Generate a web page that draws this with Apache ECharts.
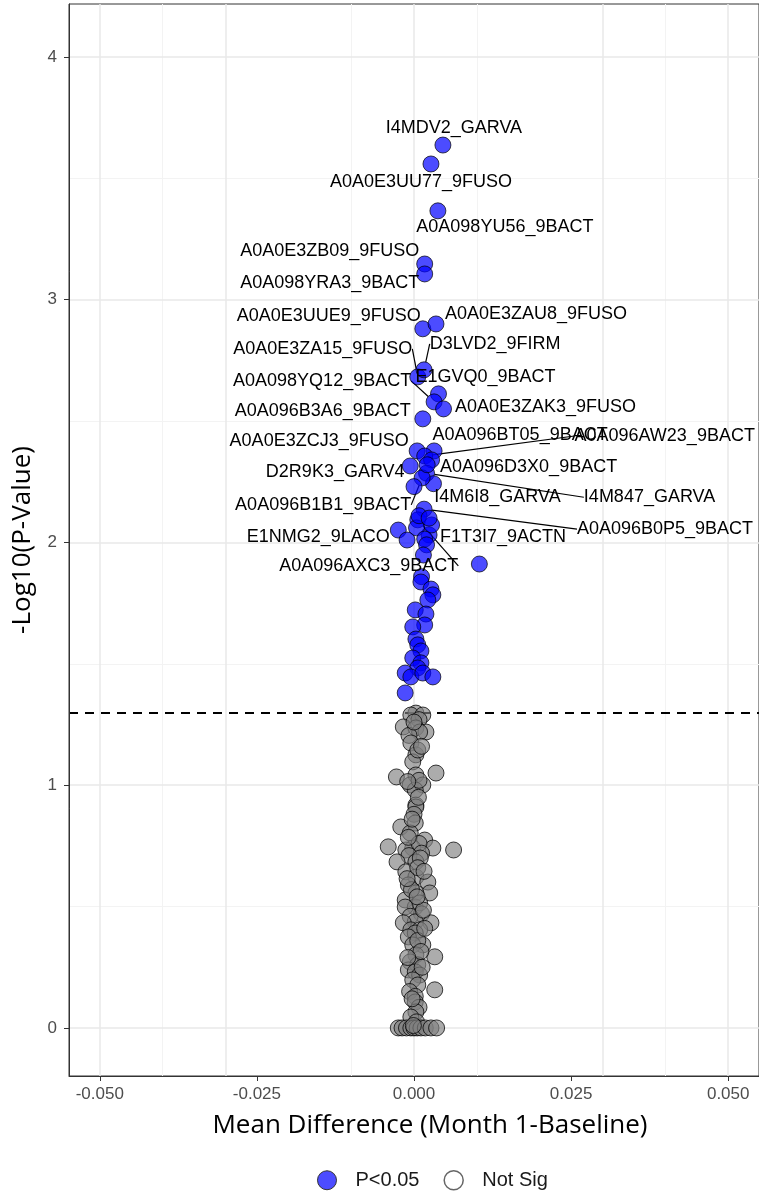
<!DOCTYPE html>
<html>
<head>
<meta charset="utf-8">
<script src="https://cdn.jsdelivr.net/npm/echarts@6/dist/echarts.min.js"></script>
<style>
html,body{margin:0;padding:0;background:#fff}
#chart{width:759px;height:1192px}
</style>
</head>
<body>
<div id="chart"></div>
<script>
// significant proteins that carry a label
var sigNames = ['I4MDV2_GARVA','A0A0E3UU77_9FUSO','A0A098YU56_9BACT','A0A0E3ZB09_9FUSO','A0A098YRA3_9BACT',
  'A0A0E3UUE9_9FUSO','A0A0E3ZAU8_9FUSO','A0A0E3ZA15_9FUSO','D3LVD2_9FIRM','E1GVQ0_9BACT',
  'A0A098YQ12_9BACT','A0A0E3ZAK3_9FUSO','A0A096B3A6_9BACT','A0A0E3ZCJ3_9FUSO','A0A096BT05_9BACT',
  'A0A096AW23_9BACT','D2R9K3_GARV4','A0A096D3X0_9BACT','I4M847_GARVA','I4M6I8_GARVA',
  'A0A096B1B1_9BACT','A0A096B0P5_9BACT','E1NMG2_9LACO','F1T3I7_9ACTN','A0A096AXC3_9BACT'];
var sigX = [0.0046,0.0027,0.0038,0.0017,0.0017,
  0.0014,0.0035,0.0006,0.0016,0.0039,
  0.0032,0.0047,0.0014,0.0005,0.0032,
  0.0017,-0.0006,0.0028,0.0020,0.0031,
  0.0013,0.0016,-0.0025,0.0024,0.0006];
var sigY = [3.637,3.559,3.366,3.147,3.106,
  2.880,2.900,2.682,2.711,2.612,
  2.579,2.550,2.509,2.377,2.377,
  2.356,2.315,2.340,2.285,2.242,
  2.266,2.137,2.051,2.031,2.093];

// significant, no label
var sigOtherX = [0.0028,0.0004,-0.0011,0.0017,0.0020,0.0015,0.0104,0.0012,0.0011,0.0027,0.0030,0.0022,
  0.0002,0.0019,0.0017,-0.0002,0.0003,0.0006,0.0011,-0.0002,0.0011,0.0006,-0.0014,-0.0005,
  0.0014,0.0030,-0.0014,0.0008,0.0021,0.0000,0.0024];
var sigOtherY = [2.072,2.060,2.010,2.014,1.990,1.948,1.911,1.859,1.837,1.808,1.784,1.763,
  1.722,1.705,1.660,1.652,1.602,1.578,1.553,1.524,1.504,1.483,1.462,1.446,
  1.462,1.446,1.380,2.110,2.320,2.230,2.100];

// not significant
var nsX = [0.0003,-0.0005,0.0014,0.0008,-0.0017,0.0003,0.0019,0.0009,-0.0008,-0.0005,
  0.0003,-0.0002,0.0006,-0.0028,0.0035,0.0003,-0.0006,0.0014,0.0002,0.0008,
  -0.0010,0.0003,0.0003,0.0000,-0.0021,0.0002,-0.0006,0.0017,0.0030,-0.0002,
  -0.0013,-0.0041,0.0063,0.0008,0.0012,-0.0008,-0.0027,0.0003,0.0010,-0.0013,
  0.0003,0.0022,-0.0009,0.0006,0.0025,0.0003,-0.0014,0.0002,0.0009,-0.0014,
  -0.0004,0.0012,-0.0006,0.0002,0.0027,-0.0017,-0.0005,0.0009,0.0002,-0.0009,
  0.0014,-0.0002,0.0006,0.0033,0.0003,-0.0006,0.0006,0.0011,-0.0009,0.0002,
  0.0009,-0.0002,0.0033,0.0006,-0.0007,0.0002,0.0002,0.0008,0.0003,-0.0005,
  0.0004,-0.0025,-0.0019,-0.0012,-0.0005,0.0000,0.0005,0.0011,0.0018,0.0027,
  0.0036,-0.0001,0.0007,-0.0003,0.0016,-0.0011,0.0015,-0.0010,0.0013,0.0000,
  0.0012,-0.0009,0.0005,0.0017,-0.0003];
var nsY = [1.297,1.289,1.289,1.270,1.240,1.236,1.219,1.219,1.205,1.174,
  1.125,1.096,1.145,1.034,1.050,1.042,1.001,1.001,0.980,1.020,
  1.015,0.918,0.910,0.880,0.828,0.844,0.803,0.774,0.741,0.741,
  0.733,0.746,0.733,0.760,0.720,0.710,0.684,0.684,0.700,0.643,
  0.622,0.601,0.589,0.660,0.556,0.556,0.527,0.498,0.515,0.498,
  0.570,0.470,0.460,0.437,0.433,0.433,0.404,0.404,0.391,0.375,
  0.342,0.342,0.360,0.293,0.301,0.272,0.260,0.315,0.239,0.231,
  0.218,0.198,0.157,0.177,0.150,0.130,0.107,0.085,0.066,0.045,
  0.025,0,0,0,0,0,0,0,0,0,
  0,0.010,0.950,0.860,0.645,0.615,0.485,0.290,0.250,1.260,
  1.160,0.785,0.540,0.410,0.120];

var xTicks = [-0.05,-0.025,0,0.025,0.05];
var xMinor = [-0.0375,-0.0125,0.0125,0.0375];
var yTicks = [0,1,2,3,4];
var yMinor = [0.5,1.5,2.5,3.5];
var pThreshold = 1.301;

// label placement: text centre offset from the point in px, and whether a segment is drawn
var labelOffsets = {
  'I4MDV2_GARVA':[11,-17,0],
  'A0A0E3UU77_9FUSO':[-10,18,0],
  'A0A098YU56_9BACT':[67,16,0],
  'A0A0E3ZB09_9FUSO':[-95,-13,0],
  'A0A098YRA3_9BACT':[-95,9,0],
  'A0A0E3UUE9_9FUSO':[-94,-13,0],
  'A0A0E3ZAU8_9FUSO':[100,-10,0],
  'A0A0E3ZA15_9FUSO':[-95,-28,1],
  'D3LVD2_9FIRM':[71,-26,1],
  'E1GVQ0_9BACT':[47,-17,0],
  'A0A098YQ12_9BACT':[-112,-21,1],
  'A0A0E3ZAK3_9FUSO':[102,-2,0],
  'A0A096B3A6_9BACT':[-100,-8,0],
  'A0A0E3ZCJ3_9FUSO':[-98,-10,0],
  'A0A096BT05_9BACT':[86,-16,0],
  'A0A096AW23_9BACT':[240,-20,1],
  'D2R9K3_GARV4':[-75,6,0],
  'A0A096D3X0_9BACT':[97,7,0],
  'I4M847_GARVA':[223,24,1],
  'I4M6I8_GARVA':[64,13,0],
  'A0A096B1B1_9BACT':[-99,27,1],
  'A0A096B0P5_9BACT':[241,20,1],
  'E1NMG2_9LACO':[-80,7,0],
  'F1T3I7_9ACTN':[74,2,0],
  'A0A096AXC3_9BACT':[-49,46,1]
};

var FONT = '"Liberation Sans", Arial, sans-serif';
var TITLEFONT = '"Open Sans", Lato, sans-serif';

var sigData = sigNames.map(function(n, i){
  var o = labelOffsets[n];
  return {name: n, value: [sigX[i], sigY[i]], label: {show: true}, labelLine: {show: !!o[2]}};
});
sigOtherX.forEach(function(x, i){
  sigData.push({value: [x, sigOtherY[i]], label: {show: false}});
});
var nsData = nsX.map(function(x, i){ return [x, nsY[i]]; });

var gridLines = [];
xMinor.forEach(function(v){ gridLines.push({xAxis: v, lineStyle: {color: '#f3f3f3', width: 1, type: 'solid'}}); });
yMinor.forEach(function(v){ gridLines.push({yAxis: v, lineStyle: {color: '#f3f3f3', width: 1, type: 'solid'}}); });
xTicks.forEach(function(v){ gridLines.push({xAxis: v, lineStyle: {color: '#e8e8e8', width: 1.5, type: 'solid'}}); });
yTicks.forEach(function(v){ gridLines.push({yAxis: v, lineStyle: {color: '#e8e8e8', width: 1.5, type: 'solid'}}); });

var myChart = echarts.init(document.getElementById('chart'));
var option = {
  animation: false,
  backgroundColor: '#fff',
  grid: {left: 69, right: -4, top: 4, bottom: 116, show: true, borderColor: '#333', borderWidth: 1, backgroundColor: '#fff'},
  legend: {
    top: 1165, left: 312,
    itemWidth: 19, itemHeight: 19, itemGap: 24,
    icon: 'circle',
    textStyle: {fontSize: 20, color: '#1a1a1a', fontFamily: FONT, padding: [0, 0, 0, 14]},
    data: [
      {name: 'P<0.05', itemStyle: {color: 'rgba(0,0,255,0.7)', borderColor: '#333', borderWidth: 1}},
      {name: 'Not Sig', itemStyle: {color: '#fff', borderColor: '#666', borderWidth: 1.5}}
    ]
  },
  xAxis: {
    type: 'value', min: -0.0549, max: 0.0549,
    splitLine: {show: false},
    axisLine: {show: true, onZero: false, lineStyle: {color: '#333'}},
    axisTick: {show: true, customValues: xTicks, length: 5, lineStyle: {color: '#333'}},
    axisLabel: {customValues: xTicks, fontSize: 17, color: '#4d4d4d', fontFamily: FONT, margin: 10,
      formatter: function(v){ return v.toFixed(3); }},
    name: 'Mean Difference (Month 1-Baseline)', nameLocation: 'middle', nameGap: 37,
    nameTextStyle: {fontSize: 26, color: '#000', fontFamily: TITLEFONT, padding: [0, 0, 0, 32]}
  },
  yAxis: {
    type: 'value', min: -0.198, max: 4.218,
    splitLine: {show: false},
    axisLine: {show: true, onZero: false, lineStyle: {color: '#333'}},
    axisTick: {show: true, customValues: yTicks, length: 5, lineStyle: {color: '#333'}},
    axisLabel: {customValues: yTicks, fontSize: 17, color: '#4d4d4d', fontFamily: FONT, margin: 12},
    name: '-Log10(P-Value)', nameLocation: 'middle', nameGap: 33,
    nameTextStyle: {fontSize: 26, color: '#000', fontFamily: TITLEFONT}
  },
  series: [{
    type: 'scatter', name: 'grid', data: [], silent: true, z: 0,
    markLine: {
      silent: true, symbol: 'none', z: 0, label: {show: false},
      data: gridLines.concat([{yAxis: pThreshold, lineStyle: {color: '#000', width: 2, type: [9, 7]}}])
    }
  }, {
    type: 'scatter', name: 'Not Sig', data: nsData, symbolSize: 16, z: 3,
    itemStyle: {color: 'rgba(128,128,128,0.65)', borderColor: 'rgba(0,0,0,0.75)', borderWidth: 1, opacity: 1}
  }, {
    type: 'scatter', name: 'P<0.05', data: sigData, symbolSize: 16, z: 4,
    itemStyle: {color: 'rgba(0,0,255,0.7)', borderColor: 'rgba(0,0,0,0.7)', borderWidth: 1, opacity: 1},
    label: {show: true, position: 'inside', formatter: '{b}', fontSize: 18, color: '#000', fontFamily: FONT},
    labelLine: {lineStyle: {color: '#000', width: 1.2}},
    labelLayout: function(p){
      var o = labelOffsets[sigNames[p.dataIndex]];
      if (!o) return {};
      return {dx: o[0], dy: o[1]};
    }
  }]
};
myChart.setOption(option);
</script>
</body>
</html>
